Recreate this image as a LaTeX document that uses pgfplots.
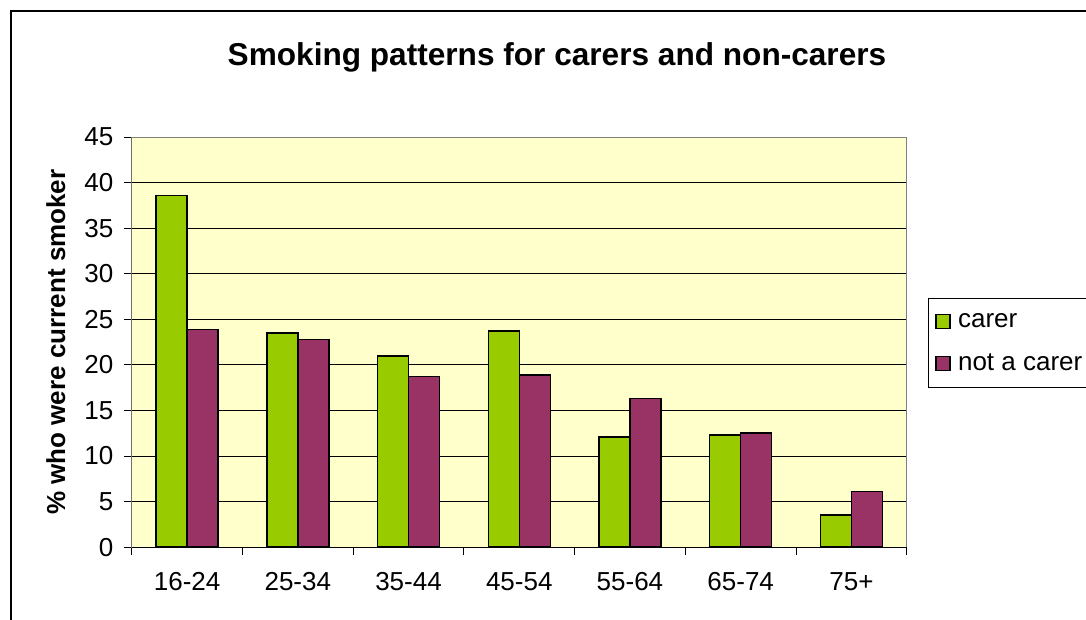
\documentclass[border=0pt]{standalone}
\usepackage{fontspec}
\setmainfont{Liberation Sans}
\usepackage{pgfplots}
\pgfplotsset{compat=1.18}
\definecolor{carer}{HTML}{99CC00}
\definecolor{notcarer}{HTML}{993366}
\definecolor{plotbg}{HTML}{FFFFCC}
\newcommand{\lbl}{\fontsize{26bp}{31bp}\selectfont}
\begin{document}
\begin{tikzpicture}[x=1bp,y=1bp]
\path[use as bounding box] (0,0) rectangle (1086,620);
\clip (0,0) rectangle (1086,620);
\draw[line width=1.5bp] (11,-50) rectangle (1150,609);
\node[font=\fontsize{31.6bp}{36bp}\selectfont\bfseries, anchor=base] at (557,554) {Smoking patterns for carers and non-carers};
\begin{axis}[
  at={(119,80)}, anchor=south west,
  width=775bp, height=410bp, scale only axis,
  xmin=-0.5, xmax=6.5, ymin=0, ymax=45,
  ytick={0,5,...,45},
  xtick={-0.5,0.5,...,6.5},
  x tick label as interval,
  xticklabels={16-24,25-34,35-44,45-54,55-64,65-74,75+},
  xtick pos=bottom, ytick pos=left,
  tick align=outside,
  major tick length=8bp,
  tick style={black, line width=0.8bp},
  ymajorgrids, grid style={black, line width=0.8bp},
  axis background/.style={fill=plotbg},
  axis line style={draw=gray, line width=1bp},
  ybar=0pt, bar width=31bp,
  ticklabel style={font=\lbl},
  xticklabel style={yshift=-14bp},
  yticklabel style={xshift=-7bp},
  /pgf/number format/assume math mode=true,
  ylabel={\% who were current smoker},
  ylabel style={at={(axis description cs:-0.098,0.5)}, anchor=center, font=\lbl\bfseries},
  legend style={at={(axis description cs:1.027,0.607)}, anchor=north west, draw=black, line width=0.8bp, font=\lbl, row sep=21bp, inner xsep=6bp, inner ysep=13bp, cells={anchor=west}},
]
\addplot[fill=carer, draw=black, line width=1.5bp, legend image code/.code={\path[draw=none,fill=none] (-2bp,0) -- (20bp,0); \draw[fill=carer, draw=black, line width=1.2bp] (0bp,-7bp) rectangle (14bp,7bp);}] coordinates {(0,38.6) (1,23.5) (2,21.0) (3,23.7) (4,12.1) (5,12.3) (6,3.5)};
\addlegendentry{carer}
\addplot[fill=notcarer, draw=black, line width=1.5bp, legend image code/.code={\path[draw=none,fill=none] (-2bp,0) -- (20bp,0); \draw[fill=notcarer, draw=black, line width=1.2bp] (0bp,-7bp) rectangle (14bp,7bp);}] coordinates {(0,23.9) (1,22.8) (2,18.7) (3,18.9) (4,16.3) (5,12.5) (6,6.1)};
\addlegendentry{not a carer}
\draw[black, line width=1bp] (rel axis cs:0,1) -- (rel axis cs:0,0) -- (rel axis cs:1,0);
\end{axis}
\end{tikzpicture}
\end{document}
